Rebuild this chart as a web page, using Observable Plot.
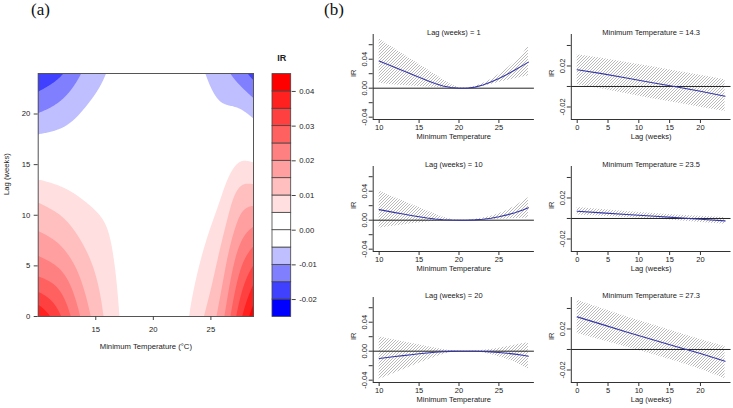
<!DOCTYPE html>
<html><head><meta charset="utf-8">
<script src="https://cdn.jsdelivr.net/npm/d3@7"></script>
<script src="https://cdn.jsdelivr.net/npm/@observablehq/plot@0.6"></script>
<style>
body{margin:0;background:#fff;width:733px;height:408px;overflow:hidden;position:relative;font-family:"Liberation Sans",Arial,sans-serif;}
.p{position:absolute;}
.lab{position:absolute;font-family:"Liberation Serif","Times New Roman",serif;font-size:17px;line-height:17px;color:#111;}
</style></head><body>
<div class="lab" style="left:31px;top:1px">(a)</div>
<div class="lab" style="left:324px;top:1px">(b)</div>
<script>
// ---------- Panel (a): IR surface ----------
const tempsA = [10, 12, 14, 16, 18, 20, 22, 24, 26, 27.5, 28.7];
const lagsA = [0, 3, 6, 9, 12, 15, 18, 21, 24];
// one row per temperature (columns follow lagsA)
const irGrid = [
  [0.040, 0.028, 0.020, 0.014, 0.0085, 0.0015, -0.005, -0.0122, -0.019],
  [0.030, 0.0235, 0.0168, 0.0115, 0.0065, 0.001, -0.004, -0.0093, -0.0155],
  [0.018, 0.0145, 0.011, 0.0077, 0.0043, 0.0005, -0.0025, -0.0055, -0.0092],
  [0.0087, 0.0076, 0.0063, 0.0048, 0.0027, 0.0005, -0.0013, -0.003, -0.0048],
  [0.0025, 0.002, 0.0016, 0.0012, 0.0008, 0.0003, -0.0003, -0.0009, -0.0015],
  [0, 0, 0, 0, 0, 0, 0, 0, 0],
  [0.0015, 0.0012, 0.001, 0.0007, 0.0004, 0.0001, -0.0002, -0.0005, -0.0008],
  [0.0085, 0.0063, 0.0045, 0.003, 0.0016, 0.0003, -0.001, -0.0025, -0.004],
  [0.0186, 0.0152, 0.0119, 0.0085, 0.0052, 0.0018, -0.0015, -0.0049, -0.0082],
  [0.033, 0.0275, 0.022, 0.0165, 0.0115, 0.0055, 0.0, -0.006, -0.0125],
  [0.043, 0.0355, 0.0275, 0.0197, 0.0125, 0.0055, -0.0015, -0.0085, -0.017]
];
const breaks = [-0.025, -0.02, -0.015, -0.01, -0.005, 0, 0.005, 0.01, 0.015, 0.02, 0.025, 0.03, 0.035, 0.04, 0.045];
const bandColors = ["#0000FF","#4040FF","#8080FF","#BFBFFF","#FFFFFF","#FFFFFF","#FFDFDF","#FFBFBF","#FF9F9F","#FF8080","#FF6060","#FF4040","#FF2020","#FF0000"];
const legendTicks = [-0.02, -0.01, 0, 0.01, 0.02, 0.03, 0.04];
const xTicksA = [15, 20, 25];
const yTicksA = [0, 5, 10, 15, 20];

// ---------- Panel (b): slices ----------
const tempsB = [10, 11, 12, 13, 14, 15, 16, 17, 18, 19, 20, 21, 22, 23, 24, 25, 26, 27, 28, 28.7];
const lag1Fit = [0.0375, 0.033, 0.0285, 0.024, 0.0195, 0.015, 0.0105, 0.0065, 0.003, 0.001, 0, 0, 0.0015, 0.0045, 0.0085, 0.0135, 0.019, 0.025, 0.0315, 0.036];
const lag1Hi  = [0.068, 0.061, 0.054, 0.047, 0.040, 0.033, 0.026, 0.019, 0.012, 0.005, 0.0005, 0.0003, 0.0025, 0.0065, 0.012, 0.019, 0.027, 0.036, 0.047, 0.059];
const lag1Lo  = [0.0069, 0.0056, 0.0045, 0.0037, 0.003, 0.0024, 0.0018, 0.0012, 0.0005, 0.0002, 0, -0.0003, 0.0005, 0.0025, 0.005, 0.008, 0.0105, 0.013, 0.0155, 0.0168];
const lag10Fit = [0.0146, 0.0125, 0.0105, 0.0085, 0.0065, 0.0047, 0.003, 0.0017, 0.0007, 0.0002, 0, 0, 0.0004, 0.0013, 0.0027, 0.0047, 0.0073, 0.0103, 0.014, 0.0172];
const lag10Hi  = [0.0404, 0.0355, 0.031, 0.0265, 0.022, 0.0175, 0.013, 0.0085, 0.0045, 0.0012, 0.0001, 0.0001, 0.0012, 0.003, 0.0055, 0.009, 0.0135, 0.019, 0.026, 0.031];
const lag10Lo  = [-0.011, -0.0095, -0.008, -0.0065, -0.005, -0.0037, -0.0025, -0.0015, -0.0007, -0.0002, -0.0001, -0.0001, -0.0002, 0, 0.0005, 0.0012, 0.0018, 0.0022, 0.0026, 0.0028];
const lag20Fit = [-0.0101, -0.0087, -0.0074, -0.0061, -0.0048, -0.0036, -0.0025, -0.0015, -0.0007, -0.0002, 0, 0, -0.0001, -0.0004, -0.001, -0.0018, -0.0028, -0.004, -0.0056, -0.0069];
const lag20Hi  = [0.0198, 0.0176, 0.0154, 0.0132, 0.011, 0.0088, 0.0066, 0.0044, 0.0022, 0.0006, 0.0001, 0.0001, 0.0004, 0.0012, 0.0025, 0.0042, 0.0062, 0.0083, 0.0105, 0.0115];
const lag20Lo  = [-0.039, -0.0345, -0.030, -0.0255, -0.021, -0.0168, -0.0125, -0.0083, -0.0045, -0.0015, -0.0003, -0.0002, -0.0008, -0.002, -0.0045, -0.0075, -0.011, -0.015, -0.021, -0.025];

const lagsB = [0, 4, 8, 12, 16, 20, 24];
const t143Fit = [0.0163, 0.0125, 0.0082, 0.0039, -0.0002, -0.0047, -0.0095];
const t143Hi  = [0.031, 0.0275, 0.0235, 0.0195, 0.0152, 0.011, 0.0065];
const t143Lo  = [0.0017, -0.0025, -0.007, -0.0118, -0.0158, -0.0202, -0.0244];
const t235Fit = [0.0071, 0.0055, 0.0039, 0.0024, 0.0008, -0.0008, -0.0023];
const t235Hi  = [0.0108, 0.0088, 0.0068, 0.005, 0.0035, 0.0022, 0.001];
const t235Lo  = [0.0034, 0.0022, 0.001, -0.0002, -0.0019, -0.0038, -0.0056];
const t273Fit = [0.0318, 0.0245, 0.0171, 0.0100, 0.0030, -0.0040, -0.0115];
const t273Hi  = [0.048, 0.040, 0.032, 0.0245, 0.017, 0.0098, 0.003];
const t273Lo  = [0.0155, 0.009, 0.0025, -0.0045, -0.0115, -0.0192, -0.0285];

const leftTitles = ["Lag (weeks) = 1", "Lag (weeks) = 10", "Lag (weeks) = 20"];
const rightTitles = ["Minimum Temperature = 14.3", "Minimum Temperature = 23.5", "Minimum Temperature = 27.3"];
const xTicksTemp = [10, 15, 20, 25];
const xTicksLag = [0, 5, 10, 15, 20];
const yTicksLeft = [-0.04, -0.02, 0, 0.02, 0.04, 0.06];
const yLabelsLeft = [-0.04, 0, 0.04];
const yTicksRight = [-0.02, 0, 0.02, 0.04];
const yLabelsRight = [-0.02, 0.02];

const FONT = "Liberation Sans, Arial, sans-serif";
const TXT = "#222";

function place(node, left, top) {
  const d = document.createElement("div");
  d.className = "p"; d.style.left = left + "px"; d.style.top = top + "px";
  d.appendChild(node); document.body.appendChild(d);
}

// natural cubic spline through knots (used only for rendering smooth contour surfaces)
function naturalSpline(xs, ys) {
  const n = xs.length, h = [], al = [], l = Array(n).fill(1), mu = Array(n).fill(0), z = Array(n).fill(0), c = Array(n).fill(0), b = [], d = [];
  for (let i = 0; i < n - 1; i++) h[i] = xs[i + 1] - xs[i];
  for (let i = 1; i < n - 1; i++) al[i] = 3 / h[i] * (ys[i + 1] - ys[i]) - 3 / h[i - 1] * (ys[i] - ys[i - 1]);
  for (let i = 1; i < n - 1; i++) { l[i] = 2 * (xs[i + 1] - xs[i - 1]) - h[i - 1] * mu[i - 1]; mu[i] = h[i] / l[i]; z[i] = (al[i] - h[i - 1] * z[i - 1]) / l[i]; }
  for (let j = n - 2; j >= 0; j--) { c[j] = z[j] - mu[j] * c[j + 1]; b[j] = (ys[j + 1] - ys[j]) / h[j] - h[j] * (c[j + 1] + 2 * c[j]) / 3; d[j] = (c[j + 1] - c[j]) / (3 * h[j]); }
  return x => { let j = 0; while (j < n - 2 && x > xs[j + 1]) j++; const t = x - xs[j]; return ys[j] + b[j] * t + c[j] * t * t + d[j] * t * t * t; };
}
function sortedSpline(ks, vs) {
  const o = d3.range(ks.length).sort((a, b) => ks[a] - ks[b]);
  return naturalSpline(o.map(i => ks[i]), o.map(i => vs[i]));
}
const nT = tempsA.length, nL = lagsA.length;
function gridSpline(index, width, height, X, Y, V) {
  const px = d3.range(nT).map(i => X[i * nL]);
  const py = d3.range(nL).map(j => Y[j]);
  const rows = d3.range(nL).map(j => {
    const f = sortedSpline(px, d3.range(nT).map(i => V[i * nL + j]));
    return d3.range(width).map(c => f(c + 0.5));
  });
  const W = new Float64Array(width * height);
  for (let c = 0; c < width; c++) {
    const g = sortedSpline(py, rows.map(r => r[c]));
    for (let r = 0; r < height; r++) W[r * width + c] = g(r + 0.5);
  }
  return W;
}

// ---- contour ----
const pts = [];
tempsA.forEach((t, i) => lagsA.forEach((l, j) => pts.push({temp: t, lag: l, ir: irGrid[i][j]})));
const contourSvg = Plot.plot({
  width: 265, height: 320,
  marginLeft: 37.7, marginRight: 12, marginTop: 33, marginBottom: 44,
  x: {domain: [10, 28.7]}, y: {domain: [0, 24]},
  color: {type: "threshold", domain: breaks.slice(1, -1), range: bandColors},
  style: {fontFamily: FONT, fontSize: "7.7px", color: TXT, background: "transparent"},
  marks: [
    Plot.contour(pts, {x: "temp", y: "lag", fill: "ir", thresholds: breaks.slice(0, -1), interpolate: gridSpline, pixelSize: 1, stroke: "none"}),
    Plot.frame({stroke: "#555", strokeWidth: 1}),
    Plot.axisX({ticks: xTicksA, tickSize: 4, tickPadding: 6, label: null, stroke: "#444"}),
    Plot.axisY({ticks: yTicksA, tickSize: 4, tickPadding: 4, label: null, stroke: "#444"}),
    Plot.text(["Minimum Temperature (°C)"], {frameAnchor: "bottom", dy: 32, text: d => d}),
    Plot.text(["Lag (weeks)"], {frameAnchor: "left", dx: -31.5, rotate: -90, text: d => d})
  ]
});
place(contourSvg, 0, 40);

// ---- legend ----
const bands = bandColors.map((c, i) => ({lo: breaks[i], hi: breaks[i + 1], color: c}));
const legendSvg = Plot.plot({
  width: 70, height: 290,
  marginLeft: 10, marginRight: 41.3, marginTop: 33.6, marginBottom: 13.6,
  x: {domain: [0, 1], axis: null},
  y: {domain: [-0.025, 0.045]},
  color: {type: "identity"},
  style: {fontFamily: FONT, fontSize: "7.7px", color: TXT, background: "transparent"},
  marks: [
    Plot.rect(bands, {x1: 0, x2: 1, y1: "lo", y2: "hi", fill: "color", stroke: "#444", strokeWidth: 0.8}),
    Plot.axisY({anchor: "right", ticks: legendTicks, tickFormat: d => d.toFixed(2), tickSize: 4, tickPadding: 4, label: null, stroke: "#444"}),
    Plot.text(["IR"], {frameAnchor: "top", dy: -19.5, text: d => d, fontWeight: "bold", fontSize: 9})
  ]
});
place(legendSvg, 262, 40);

// ---- slice panels ----
let hatchId = 0;
function slicePanel(o) {
  const id = "hatch" + (hatchId++);
  const data = o.xs.map((x, i) => ({x, fit: o.fit[i], lo: o.lo[i], hi: o.hi[i]}));
  const svg = Plot.plot({
    width: o.width, height: 126,
    marginLeft: o.ml, marginRight: o.mr, marginTop: 14, marginBottom: 27,
    x: {domain: o.xDomain}, y: {domain: o.yDomain},
    style: {fontFamily: FONT, fontSize: "7.5px", color: TXT, background: "transparent"},
    marks: [
      Plot.areaY(data, {x: "x", y1: "lo", y2: "hi", fill: `url(#${id})`}),
      Plot.ruleY([0], {stroke: "#222", strokeWidth: 1}),
      Plot.line(data, {x: "x", y: "fit", stroke: "#3535a8", strokeWidth: 1.1}),
      Plot.ruleX([o.xDomain[0]], {stroke: "#333"}),
      Plot.ruleY([o.yDomain[0]], {stroke: "#333"}),
      Plot.axisX({ticks: o.xTicks, tickSize: 4, tickPadding: 1.5, label: null, stroke: "#333"}),
      Plot.axisY({ticks: o.yTicks, tickSize: 4, tickFormat: () => "", label: null, stroke: "#333"}),
      Plot.text(o.yLabels, {x: o.xDomain[0], y: d => d, text: d => d.toFixed(2), rotate: -90, dx: -8.5}),
      Plot.text([o.title], {frameAnchor: "top", dy: -5, text: d => d}),
      Plot.text([o.xTitle], {frameAnchor: "bottom", dy: 19.5, text: d => d}),
      Plot.text(["IR"], {frameAnchor: "left", dx: -19.5, rotate: -90, text: d => d})
    ]
  });
  const ns = "http://www.w3.org/2000/svg";
  const defs = document.createElementNS(ns, "defs");
  defs.innerHTML = `<pattern id="${id}" patternUnits="userSpaceOnUse" x="0" y="0" width="3" height="3"><rect width="3" height="3" fill="#fff"/><path d="M-1,1L1,-1M0,3L3,0M2,4L4,2" stroke="#9c9c9c" stroke-width="0.7"/></pattern>`;
  svg.insertBefore(defs, svg.firstChild);
  place(svg, o.left, o.top);
}

const leftSeries = [[lag1Fit, lag1Lo, lag1Hi], [lag10Fit, lag10Lo, lag10Hi], [lag20Fit, lag20Lo, lag20Hi]];
const rightSeries = [[t143Fit, t143Lo, t143Hi], [t235Fit, t235Lo, t235Hi], [t273Fit, t273Lo, t273Hi]];
const rowTops = [20, 152, 283];
for (let r = 0; r < 3; r++) {
  const top = rowTops[r];
  slicePanel({
    left: 330, top, width: 205, ml: 42.7, mr: 1.1,
    xs: tempsB, fit: leftSeries[r][0], lo: leftSeries[r][1], hi: leftSeries[r][2],
    xDomain: [9.252, 29.448], yDomain: [-0.0432, 0.0741],
    xTicks: xTicksTemp, yTicks: yTicksLeft, yLabels: yLabelsLeft,
    title: leftTitles[r], xTitle: "Minimum Temperature"
  });
  slicePanel({
    left: 530, top, width: 203, ml: 40.8, mr: 2.5,
    xs: lagsB, fit: rightSeries[r][0], lo: rightSeries[r][1], hi: rightSeries[r][2],
    xDomain: [-0.96, 24.96], yDomain: [-0.0322, 0.0507],
    xTicks: xTicksLag, yTicks: yTicksRight, yLabels: yLabelsRight,
    title: rightTitles[r], xTitle: "Lag (weeks)"
  });
}
</script>
</body></html>
